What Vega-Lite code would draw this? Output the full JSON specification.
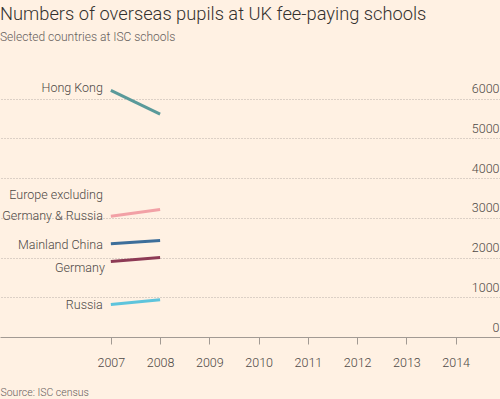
{
  "$schema": "https://vega.github.io/schema/vega-lite/v6.json",
  "width": 500,
  "height": 278,
  "autosize": {"type": "none"},
  "padding": {"top": 59, "left": 0, "right": 0, "bottom": 63},
  "background": "#fff1e3",
  "title": {
    "text": "Numbers of overseas pupils at UK fee-paying schools",
    "subtitle": "Selected countries at ISC schools",
    "anchor": "start",
    "frame": "group",
    "offset": 15,
    "font": "Roboto",
    "fontSize": 18.3,
    "fontWeight": 300,
    "color": "#33302e",
    "subtitleFont": "Roboto",
    "subtitleFontSize": 12,
    "subtitleFontWeight": 300,
    "subtitleColor": "#66605c",
    "subtitlePadding": 8
  },
  "config": {
    "view": {"stroke": null},
    "font": "Roboto"
  },
  "data": {
    "values": [
      {"series": "Hong Kong", "year": 2007, "value": 6210},
      {"series": "Hong Kong", "year": 2008, "value": 5610},
      {"series": "Europe excluding Germany & Russia", "year": 2007, "value": 3040},
      {"series": "Europe excluding Germany & Russia", "year": 2008, "value": 3210},
      {"series": "Mainland China", "year": 2007, "value": 2350},
      {"series": "Mainland China", "year": 2008, "value": 2430},
      {"series": "Germany", "year": 2007, "value": 1900},
      {"series": "Germany", "year": 2008, "value": 2000},
      {"series": "Russia", "year": 2007, "value": 820},
      {"series": "Russia", "year": 2008, "value": 940}
    ]
  },
  "encoding": {
    "x": {
      "field": "year",
      "type": "quantitative",
      "scale": {"domain": [2004.75, 2014.9], "nice": false, "zero": false},
      "axis": {
        "values": [2007, 2008, 2009, 2010, 2011, 2012, 2013, 2014],
        "format": "d",
        "grid": false,
        "domainColor": "#a29a93",
        "tickColor": "#a29a93",
        "tickSize": 7,
        "labelPadding": 12,
        "labelFontSize": 12.5,
        "labelFontWeight": 300,
        "labelColor": "#4d4845",
        "labelFont": "Roboto",
        "title": "Source: ISC census",
        "titleAnchor": "start",
        "titleAlign": "left",
        "titleBaseline": "middle",
        "titleX": 0,
        "titleY": 55,
        "titleFontSize": 10.5,
        "titleFontWeight": 300,
        "titleColor": "#66605c",
        "titleFont": "Roboto"
      }
    },
    "y": {
      "field": "value",
      "type": "quantitative",
      "scale": {"domain": [0, 7000], "nice": false},
      "axis": {
        "orient": "right",
        "values": [0, 1000, 2000, 3000, 4000, 5000, 6000],
        "format": "d",
        "domain": false,
        "ticks": false,
        "grid": true,
        "gridDash": [1, 2],
        "gridColor": "#b8afa8",
        "labelAlign": "right",
        "labelBaseline": "alphabetic",
        "labelPadding": -1,
        "labelOffset": -6,
        "labelFontSize": 12.5,
        "labelFontWeight": 300,
        "labelColor": "#4d4845",
        "labelFont": "Roboto",
        "title": null
      }
    }
  },
  "layer": [
    {
      "mark": {"type": "line", "strokeWidth": 3},
      "encoding": {
        "color": {
          "field": "series",
          "type": "nominal",
          "scale": {
            "domain": ["Hong Kong", "Europe excluding Germany & Russia", "Mainland China", "Germany", "Russia"],
            "range": ["#5a9a9a", "#f2a1a6", "#3d6e9a", "#8d3a55", "#5ec4dc"]
          },
          "legend": null
        }
      }
    },
    {
      "transform": [{"filter": "datum.year == 2007 && datum.series == 'Hong Kong'"}],
      "mark": {"type": "text", "align": "right", "baseline": "middle", "dx": -8, "dy": -2, "fontSize": 12.5, "fontWeight": 300, "color": "#4d4845"},
      "encoding": {"text": {"value": "Hong Kong"}}
    },
    {
      "transform": [{"filter": "datum.year == 2007 && datum.series == 'Europe excluding Germany & Russia'"}],
      "mark": {"type": "text", "align": "right", "baseline": "middle", "dx": -8, "dy": -21, "fontSize": 12.5, "fontWeight": 300, "color": "#4d4845"},
      "encoding": {"text": {"value": "Europe excluding"}}
    },
    {
      "transform": [{"filter": "datum.year == 2007 && datum.series == 'Europe excluding Germany & Russia'"}],
      "mark": {"type": "text", "align": "right", "baseline": "middle", "dx": -8, "dy": 0, "fontSize": 12.5, "fontWeight": 300, "color": "#4d4845"},
      "encoding": {"text": {"value": "Germany & Russia"}}
    },
    {
      "transform": [{"filter": "datum.year == 2007 && datum.series == 'Mainland China'"}],
      "mark": {"type": "text", "align": "right", "baseline": "middle", "dx": -8, "dy": 1, "fontSize": 12.5, "fontWeight": 300, "color": "#4d4845"},
      "encoding": {"text": {"value": "Mainland China"}}
    },
    {
      "transform": [{"filter": "datum.year == 2007 && datum.series == 'Germany'"}],
      "mark": {"type": "text", "align": "right", "baseline": "middle", "dx": -6, "dy": 6, "fontSize": 12.5, "fontWeight": 300, "color": "#4d4845"},
      "encoding": {"text": {"value": "Germany"}}
    },
    {
      "transform": [{"filter": "datum.year == 2007 && datum.series == 'Russia'"}],
      "mark": {"type": "text", "align": "right", "baseline": "middle", "dx": -8, "dy": 1, "fontSize": 12.5, "fontWeight": 300, "color": "#4d4845"},
      "encoding": {"text": {"value": "Russia"}}
    }
  ]
}
